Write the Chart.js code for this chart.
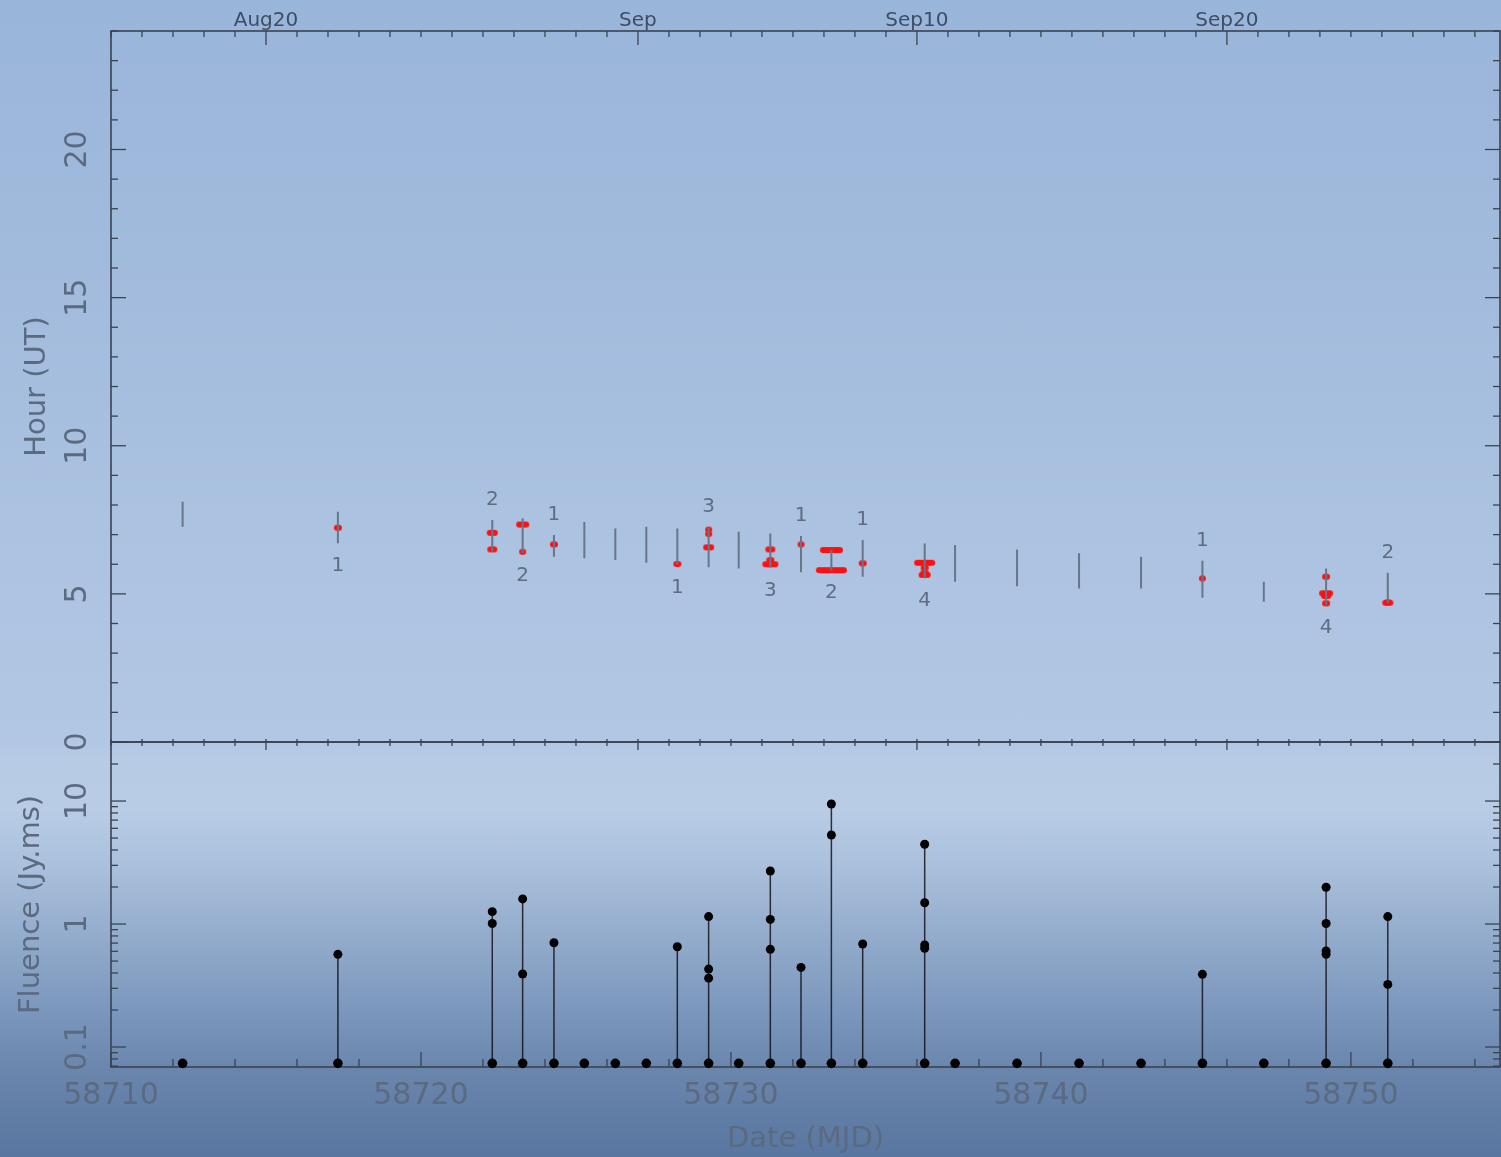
<!DOCTYPE html>
<html>
<head>
<meta charset="utf-8">
<script src="https://cdn.jsdelivr.net/npm/chart.js@4.4.1/dist/chart.umd.min.js"></script>
<style>
html,body{margin:0;padding:0;width:1501px;height:1157px;overflow:hidden;}
body{position:relative;background:linear-gradient(180deg,#99b5da 0px,#a3bcdd 300px,#aec4e2 600px,#b2c7e3 740px,#b7cbe5 760px,#b8cce6 810px,#a9bfdb 870px,#92abcb 940px,#7c97bd 1010px,#6a86ad 1070px,#5976a0 1157px);}
canvas{position:absolute;left:0;}
#topc{top:0px;}
#botc{top:722px;}
</style>
</head>
<body>
<canvas id="topc" width="1501" height="760"></canvas>
<canvas id="botc" width="1501" height="435"></canvas>
<script>
// ---------------- data ----------------
// observing windows (MJD, start hour, end hour in UT)
const winMJD   = [58712.31,58717.32,58722.30,58723.28,58724.29,58725.27,58726.27,58727.27,58728.27,58729.28,58730.25,58731.27,58732.26,58733.24,58734.25,58736.25,58737.23,58739.23,58741.23,58743.23,58745.21,58747.19,58749.20,58751.19];
const winStart = [8.11,7.77,7.49,7.55,6.99,7.43,7.21,7.27,7.21,7.25,7.10,7.04,6.95,6.48,6.82,6.70,6.65,6.50,6.37,6.25,6.12,5.41,5.86,5.71];
const winEnd   = [7.27,6.71,6.42,6.38,6.25,6.20,6.14,6.05,5.99,5.90,5.86,5.88,5.73,5.80,5.58,5.53,5.41,5.26,5.18,5.18,4.87,4.73,4.62,4.70];

// bursts (MJD, hour UT, fluence Jy.ms)
const burstMJD     = [58717.32,58722.30,58722.30,58723.28,58723.28,58724.29,58728.27,58729.28,58729.28,58729.28,58731.27,58731.27,58731.27,58732.26,58733.24,58733.24,58734.25,58736.25,58736.25,58736.25,58736.25,58745.21,58749.20,58749.20,58749.20,58749.20,58751.19,58751.19];
const burstHour    = [7.23,7.06,6.50,7.34,6.42,6.67,6.01,7.17,7.02,6.57,6.50,6.14,6.00,6.67,6.48,5.80,6.03,6.05,5.88,5.72,5.64,5.52,5.58,5.02,4.93,4.68,4.72,4.70];
const burstFluence = [0.567,1.26,1.01,1.60,0.392,0.705,0.654,0.363,0.43,1.15,1.09,0.623,2.70,0.444,5.29,9.46,0.688,4.45,0.634,0.675,1.49,0.39,0.567,1.99,1.01,0.603,0.323,1.15];

// baseline level used to mark every observation in the fluence panel
const fluenceBase = 0.0737;

// tick labels
const hourTickValues    = [0,5,10,15,20];
const hourTickLabels    = ['0','5','10','15','20'];
const fluenceTickValues = [0.1,1,10];
const fluenceTickLabels = ['0.1','1','10'];
const mjdTickValues     = [58710,58720,58730,58740,58750];
const mjdTickLabels     = ['58710','58720','58730','58740','58750'];
const dateTickMJD       = [58715,58727,58736,58746];
const dateTickLabels    = ['Aug20','Sep','Sep10','Sep20'];

// ---------------- style ----------------
const X_MIN = 58710, X_MAX = 58754.81;
const FONT = 'DejaVu Sans';
const TXT = '#5a6a81';
const AXIS = '#3a4352';
Chart.defaults.font.family = FONT;
Chart.defaults.color = TXT;

// build line data (segments separated by gaps)
const winSegs = [];
winMJD.forEach((m,i)=>{ winSegs.push({x:m,y:winStart[i]},{x:m,y:winEnd[i]},{x:m,y:null}); });
const burstPts = burstMJD.map((m,i)=>({x:m,y:burstHour[i]}));
const stems = [];
burstMJD.forEach((m,i)=>{ stems.push({x:m,y:fluenceBase},{x:m,y:burstFluence[i]},{x:m,y:null}); });
const fluPts = burstMJD.map((m,i)=>({x:m,y:burstFluence[i]}));
const basePts = winMJD.map(m=>({x:m,y:fluenceBase}));

// red capsule marker, width grows with burst fluence
const markerCache = {};
function burstMarker(f){
  const w = Math.max(7, Math.round(10*Math.sqrt(f)));
  if (markerCache[w]) return markerCache[w];
  const h = 6, c = document.createElement('canvas');
  c.width = w+2; c.height = h+2;
  const g = c.getContext('2d');
  g.fillStyle = '#ff1010';
  g.beginPath();
  if (g.roundRect) g.roundRect(1,1,w,h,h/2); else g.rect(1,1,w,h);
  g.fill();
  markerCache[w] = c;
  return c;
}

function line(ctx,x1,y1,x2,y2){ctx.beginPath();ctx.moveTo(x1,y1);ctx.lineTo(x2,y2);ctx.stroke();}

// PGPLOT-like box with inward ticks
const pgBox = {
  id:'pgBox',
  beforeDatasetsDraw(chart, args, opts){
    const {ctx, chartArea:{left,right,top,bottom}} = chart;
    const xs = chart.scales.x, ys = chart.scales.y;
    ctx.save();
    ctx.strokeStyle = AXIS; ctx.lineWidth = 1.6;
    ctx.strokeRect(left, top, right-left, bottom-top);
    ctx.lineWidth = 1.3;
    const isDate = d => dateTickMJD.includes(d);
    if (opts.kind === 'hour') {
      for (let h=0; h<=24; h++) {
        const p = ys.getPixelForValue(h), len = h%5===0 ? 15 : 7;
        line(ctx,left,p,left+len,p); line(ctx,right,p,right-len,p);
      }
      for (let d=Math.ceil(X_MIN); d<=Math.floor(X_MAX); d++) {
        const p = xs.getPixelForValue(d);
        line(ctx,p,top,p,top+(isDate(d)?14:6));
        line(ctx,p,bottom,p,bottom-3);
      }
    } else {
      for (let e=-2; e<=1; e++) {
        for (let m=1; m<=9; m++) {
          const v = m*Math.pow(10,e);
          if (v < ys.min || v > ys.max) continue;
          const p = ys.getPixelForValue(v), len = m===1 ? 15 : 7;
          line(ctx,left,p,left+len,p); line(ctx,right,p,right-len,p);
        }
      }
      for (let d=Math.ceil(X_MIN); d<=Math.floor(X_MAX); d++) {
        const p = xs.getPixelForValue(d);
        line(ctx,p,top,p,top+(isDate(d)?8:4));
        if ((d-X_MIN)%2===0) line(ctx,p,bottom,p,bottom-((d-X_MIN)%10===0?15:8));
      }
    }
    // rotated y tick labels
    const vals = opts.kind==='hour' ? hourTickValues : fluenceTickValues;
    const labs = opts.kind==='hour' ? hourTickLabels : fluenceTickLabels;
    ctx.fillStyle = TXT; ctx.font = '30px "'+FONT+'"';
    ctx.textAlign='center'; ctx.textBaseline='middle';
    vals.forEach((v,i)=>{
      const p = ys.getPixelForValue(v);
      ctx.save(); ctx.translate(78.5,p); ctx.rotate(-Math.PI/2); ctx.fillText(labs[i],0,0); ctx.restore();
    });
    ctx.restore();
  }
};

// burst-count labels above/below each window
const countLabels = {
  id:'countLabels',
  afterDatasetsDraw(chart){
    const {ctx, scales:{x,y}} = chart;
    ctx.save();
    ctx.font = '20px "'+FONT+'"'; ctx.fillStyle = '#5e6d82';
    ctx.textAlign='center'; ctx.textBaseline='middle';
    let k = 0;
    winMJD.forEach((m,i)=>{
      const n = burstMJD.filter(b=>b===m).length;
      if (!n) return;
      const px = x.getPixelForValue(m);
      const py = (k%2===1) ? y.getPixelForValue(winStart[i]) - 20 : y.getPixelForValue(winEnd[i]) + 23;
      ctx.fillText(String(n), px, py);
      k++;
    });
    ctx.restore();
  }
};

const fitH = h => s => { s.height = h; s.paddingLeft = 0; s.paddingRight = 0; };
const fitW = w => s => { s.width = w; s.paddingTop = 0; s.paddingBottom = 0; };

// ---------------- top panel: hour of day ----------------
new Chart(document.getElementById('topc'), {
  type:'line',
  data:{datasets:[
    {label:'Observing windows', data:winSegs, xAxisID:'x', yAxisID:'y', borderColor:'#67768b', borderWidth:2, pointRadius:0, spanGaps:false, fill:false},
    {label:'Bursts', type:'scatter', data:burstPts, xAxisID:'x', yAxisID:'y',
     pointStyle: c => burstMarker(burstFluence[c.dataIndex]),
     pointRadius:6, borderColor:'#ff1010', backgroundColor:'#ff1010', showLine:false}
  ]},
  options:{
    responsive:false, animation:false, devicePixelRatio:1, events:[],
    layout:{autoPadding:false, padding:{left:0,right:1,top:0,bottom:0}},
    plugins:{legend:{display:false}, tooltip:{enabled:false}, pgBox:{kind:'hour'}},
    scales:{
      x:{type:'linear', position:'bottom', min:X_MIN, max:X_MAX, grid:{display:false, drawTicks:false}, border:{display:false}, ticks:{display:false},
         afterFit:fitH(18)},
      xTop:{type:'linear', position:'top', min:X_MIN, max:X_MAX, grid:{display:false, drawTicks:false}, border:{display:false},
         afterBuildTicks:s=>{s.ticks=dateTickMJD.map(v=>({value:v}));},
         ticks:{autoSkip:false, maxRotation:0, padding:-2, color:'#3f4d63', font:{size:20}, callback:(v,i)=>dateTickLabels[i]},
         afterFit:fitH(31)},
      y:{type:'linear', position:'left', min:0, max:24, grid:{display:false, drawTicks:false}, border:{display:false}, ticks:{display:false},
         title:{display:true, text:'Hour (UT)', color:TXT, font:{size:29}, padding:{top:20,bottom:0}},
         afterFit:fitW(111)}
    }
  },
  plugins:[pgBox, countLabels]
});

// ---------------- bottom panel: fluence ----------------
new Chart(document.getElementById('botc'), {
  type:'line',
  data:{datasets:[
    {label:'Stems', data:stems, xAxisID:'x', yAxisID:'y', borderColor:'rgba(10,10,15,0.8)', borderWidth:1.5, pointRadius:0, spanGaps:false, fill:false, clip:false},
    {label:'Observations', type:'scatter', data:basePts, xAxisID:'x', yAxisID:'y', pointRadius:4.8, backgroundColor:'#000', borderColor:'#000', borderWidth:0, clip:false},
    {label:'Burst fluence', type:'scatter', data:fluPts, xAxisID:'x', yAxisID:'y', pointRadius:4.5, backgroundColor:'#000', borderColor:'#000', borderWidth:0, clip:false}
  ]},
  options:{
    responsive:false, animation:false, devicePixelRatio:1, events:[],
    layout:{autoPadding:false, padding:{left:0,right:1,top:0,bottom:0}},
    plugins:{legend:{display:false}, tooltip:{enabled:false}, pgBox:{kind:'fluence'}},
    scales:{
      x:{type:'linear', position:'bottom', min:X_MIN, max:X_MAX, grid:{display:false, drawTicks:false}, border:{display:false},
         afterBuildTicks:s=>{s.ticks=mjdTickValues.map(v=>({value:v}));},
         ticks:{autoSkip:false, maxRotation:0, padding:11, color:TXT, font:{size:30}, callback:(v,i)=>mjdTickLabels[i]},
         title:{display:true, text:'Date (MJD)', color:TXT, font:{size:29}, padding:{top:0,bottom:0}},
         afterFit:fitH(90)},
      xTop:{type:'linear', position:'top', min:X_MIN, max:X_MAX, grid:{display:false, drawTicks:false}, border:{display:false}, ticks:{display:false},
         afterFit:fitH(20)},
      y:{type:'logarithmic', position:'left', min:0.0688, max:30.2, grid:{display:false, drawTicks:false}, border:{display:false}, ticks:{display:false},
         title:{display:true, text:'Fluence (Jy.ms)', color:TXT, font:{size:29}, padding:{top:14,bottom:0}},
         afterFit:fitW(111)}
    }
  },
  plugins:[pgBox]
});
</script>
</body>
</html>
